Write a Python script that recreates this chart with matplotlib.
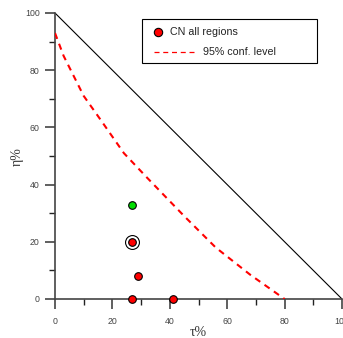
import numpy as np
import matplotlib
matplotlib.use("Agg")
import matplotlib.pyplot as plt
from matplotlib.ticker import MultipleLocator
from matplotlib.patches import Rectangle
from matplotlib.lines import Line2D

# ------------------------------------------------------------------
# Data
# ------------------------------------------------------------------
red_tau = [27, 27, 29, 41]
red_eta = [20, 0, 8, 0]
green_tau = [27]
green_eta = [33]
circled_tau = [27]
circled_eta = [20]

conf_tau = [0, 3, 10, 16, 24, 32, 45, 56, 68, 80]
conf_eta = [93, 85, 71, 62.5, 51, 42.5, 29, 18, 8.5, 0]

limit_tau = [0, 100]
limit_eta = [100, 0]

plt.rcParams['font.family'] = ['Liberation Sans', 'DejaVu Sans']

W, H = 343, 338
fig = plt.figure(figsize=(W / 100, H / 100), dpi=100)
ax = fig.add_axes([55 / W, (H - 299) / H, 287 / W, 286 / H])

ax.plot(limit_tau, limit_eta, color="black", lw=0.8, zorder=2)
ax.plot(conf_tau, conf_eta, color="red", lw=1.5, ls=(0, (3, 2.5)), zorder=3)
ax.plot(circled_tau, circled_eta, "o", ms=10, mfc="none", mec="black", mew=0.8,
        zorder=4, clip_on=False)
ax.plot(red_tau, red_eta, "o", ms=5.5, mfc="red", mec="black", mew=0.8,
        zorder=5, clip_on=False)
ax.plot(green_tau, green_eta, "o", ms=5.5, mfc="#00dd00", mec="black", mew=0.8,
        zorder=5, clip_on=False)

ax.set_xlim(0, 100)
ax.set_ylim(0, 100)

for s in ["top", "right"]:
    ax.spines[s].set_visible(False)
for s in ["left", "bottom"]:
    ax.spines[s].set_color("#444444")
    ax.spines[s].set_linewidth(1.2)

ax.xaxis.set_major_locator(MultipleLocator(20))
ax.xaxis.set_minor_locator(MultipleLocator(10))
ax.yaxis.set_major_locator(MultipleLocator(20))
ax.yaxis.set_minor_locator(MultipleLocator(10))
ax.tick_params(which="major", length=7, width=1.2, color="#444444",
               labelsize=6.3, labelcolor="#444444", pad=4)
ax.tick_params(which="minor", length=4, width=1.0, color="#222222")
ax.tick_params(axis="x", which="major", pad=6)

ax.set_xlabel("τ%", family="Liberation Serif", fontsize=10, color="#333333")
ax.xaxis.set_label_coords((198 - 55) / 287, -(332 - 299) / 286)
ax.xaxis.label.set_va("center")
ax.set_ylabel("η%", family="Liberation Serif", fontsize=10, color="#333333")
ax.yaxis.set_label_coords(-(55 - 17) / 287, (299 - 157) / 286)
ax.yaxis.label.set_va("center")

# ------------------------------------------------------------------
# Legend box drawn in figure pixels (marker and line sit at different x)
# ------------------------------------------------------------------
def px(x, y):
    return x / W, 1 - y / H

x0, y0 = px(142, 63)
x1, y1 = px(317, 19)
fig.patches.append(Rectangle((x0, y0), x1 - x0, y1 - y0, transform=fig.transFigure,
                             fill=True, facecolor="white", edgecolor="black", lw=0.8,
                             zorder=10))
mx, my = px(158, 32)
fig.lines.append(Line2D([mx], [my], marker="o", ms=6, mfc="red", mec="black", mew=0.8,
                        transform=fig.transFigure, zorder=11))
fig.text(*px(170, 32), "CN all regions", fontsize=7.7, va="center", ha="left",
         color="#222222", zorder=11)
lx0, ly = px(154, 52)
lx1, _ = px(197, 52)
fig.lines.append(Line2D([lx0, lx1], [ly, ly], color="red", lw=0.9, ls=(0, (4, 3)),
                        transform=fig.transFigure, zorder=11))
fig.text(*px(203, 52), "95% conf. level", fontsize=7.7, va="center", ha="left",
         color="#222222", zorder=11)

fig.savefig("out.png", dpi=100)
